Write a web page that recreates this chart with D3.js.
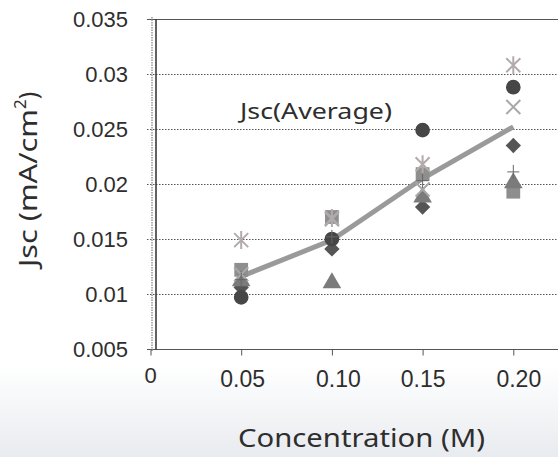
<!DOCTYPE html>
<html>
<head>
<meta charset="utf-8">
<script src="https://cdn.jsdelivr.net/npm/d3@7/dist/d3.min.js"></script>
<style>
  html, body { margin: 0; padding: 0; background: #fff; }
  svg { display: block; }
</style>
</head>
<body>
<svg id="chart" width="558" height="457"></svg>
<script>
// Concentrations (M) and short-circuit current density per sample (mA/cm²)
const concentrations = [0.05, 0.10, 0.15, 0.20];
const seriesDiamond  = [0.0106, 0.0141, 0.0179, 0.0235];
const seriesSquare   = [0.0122, 0.0170, 0.0209, 0.0193];
const seriesTriangle = [0.0112, 0.0110, 0.0188, 0.0201];
const seriesCross    = [0.0118, 0.0168, 0.0195, 0.0270];
const seriesStar     = [0.0149, 0.0169, 0.0218, 0.0308];
const seriesCircle   = [0.0097, 0.0150, 0.0249, 0.0288];
const seriesPlus     = [0.0113, 0.0152, 0.0203, 0.0211];
const jscAverage     = [0.0116, 0.0149, 0.0205, 0.0252];

const yTicks = [0.005, 0.01, 0.015, 0.02, 0.025, 0.03, 0.035];
const yTickLabels = ["0.005", "0.01", "0.015", "0.02", "0.025", "0.03", "0.035"];
const xTickLabels = ["0.05", "0.10", "0.15", "0.20"];

const svg = d3.select("#chart");

// faint tint toward the bottom of the page
const defs = svg.append("defs");
const grad = defs.append("linearGradient").attr("id", "bg").attr("x1", 0).attr("y1", 0).attr("x2", 0).attr("y2", 1);
grad.append("stop").attr("offset", "0.8").attr("stop-color", "#ffffff");
grad.append("stop").attr("offset", "1").attr("stop-color", "#e8ebef");
svg.append("rect").attr("width", 558).attr("height", 457).attr("fill", "url(#bg)");

const x = d3.scaleLinear().domain([0, 0.25]).range([150.5, 604]);
const y = d3.scaleLinear().domain([0.005, 0.035]).range([349, 19]);

const plotLeft = 156, plotRight = 600;

// gridlines (dotted)
svg.append("g")
  .selectAll("line")
  .data(yTicks)
  .join("line")
  .attr("x1", 147).attr("x2", plotRight)
  .attr("y1", d => Math.round(y(d)) + 0.5).attr("y2", d => Math.round(y(d)) + 0.5)
  .attr("stroke", "#555")
  .attr("stroke-width", 1.2)
  .attr("stroke-dasharray", d => (d === 0.035 || d === 0.005) ? null : "1.5,1.5");

// left axis: double line
svg.append("line").attr("x1", 152).attr("x2", 152).attr("y1", 17).attr("y2", 352)
  .attr("stroke", "#999").attr("stroke-width", 1.5).attr("stroke-dasharray", "1.5,1");
svg.append("line").attr("x1", plotLeft).attr("x2", plotLeft).attr("y1", 19).attr("y2", 349.5)
  .attr("stroke", "#3a3a3a").attr("stroke-width", 1.6);

// y tick labels
svg.append("g")
  .selectAll("text")
  .data(yTicks)
  .join("text")
  .attr("x", 128).attr("y", d => y(d))
  .attr("dy", "0.36em")
  .attr("text-anchor", "end")
  .attr("font-family", "'Liberation Sans', Arial, sans-serif")
  .attr("font-size", 22)
  .attr("fill", "#2e2e2e")
  .text((d, i) => yTickLabels[i]);

// x axis ticks and labels
const xAxis = d3.axisBottom(x)
  .tickValues([0].concat(concentrations))
  .tickSize(6)
  .tickFormat((d, i) => i === 0 ? "" : xTickLabels[i - 1]);
const gx = svg.append("g").attr("transform", `translate(0,${y(0.005) + 0.5})`).call(xAxis);
gx.select(".domain").remove();
gx.selectAll(".tick line").attr("stroke", "#555").attr("stroke-width", 1);
gx.selectAll(".tick text")
  .attr("font-family", "'Liberation Sans', Arial, sans-serif")
  .attr("font-size", 23)
  .attr("fill", "#2e2e2e")
  .attr("y", 21)
  .attr("dx", (d, i) => [0, 1, 6, 0, 5][i]);

// origin label sits a little higher
svg.append("text")
  .attr("x", x(0)).attr("y", 383)
  .attr("text-anchor", "middle")
  .attr("font-family", "'Liberation Sans', Arial, sans-serif")
  .attr("font-size", 22)
  .attr("fill", "#2e2e2e")
  .text("0");

// axis titles
svg.append("text")
  .attr("x", 238).attr("y", 447)
  .attr("font-family", "'Noto Sans', sans-serif")
  .attr("font-size", 26)
  .attr("textLength", 247)
  .attr("lengthAdjust", "spacingAndGlyphs")
  .attr("fill", "#2e2e2e")
  .text("Concentration (M)");

const yTitle = svg.append("text")
  .attr("transform", "translate(37,267) rotate(-90)")
  .attr("font-family", "'Noto Sans', sans-serif")
  .attr("font-size", 25)
  .attr("fill", "#2e2e2e");
yTitle.append("tspan").attr("textLength", 158).attr("lengthAdjust", "spacingAndGlyphs").text("Jsc (mA/cm");
yTitle.append("tspan").attr("font-size", 17).attr("dy", -11).text("2");
yTitle.append("tspan").attr("dy", 11).text(")");

// average line
const line = d3.line().x((d, i) => x(concentrations[i])).y(d => y(d));
svg.append("path")
  .datum(jscAverage)
  .attr("d", line)
  .attr("fill", "none")
  .attr("stroke", "#9a9a9a")
  .attr("stroke-width", 5);

svg.append("text")
  .attr("x", 240).attr("y", 119)
  .attr("font-family", "'Noto Sans', sans-serif")
  .attr("font-size", 22)
  .attr("textLength", 152)
  .attr("lengthAdjust", "spacingAndGlyphs")
  .attr("fill", "#2e2e2e")
  .text("Jsc(Average)");

// markers
const pts = vals => vals.map((v, i) => [x(concentrations[i]), y(v)]);

function drawSymbol(vals, type, size, fill) {
  svg.append("g").selectAll("path")
    .data(pts(vals)).join("path")
    .attr("transform", d => `translate(${d[0]},${d[1]})`)
    .attr("d", d3.symbol().type(type).size(size))
    .attr("fill", fill);
}

drawSymbol(seriesDiamond, d3.symbolDiamond2 || d3.symbolDiamond, 150, "#555");
drawSymbol(seriesSquare, d3.symbolSquare, 190, "#8e8e8e");
drawSymbol(seriesTriangle, d3.symbolTriangle, 150, "#7b7b7b");

// cross marker
svg.append("g").selectAll("path")
  .data(pts(seriesCross)).join("path")
  .attr("transform", d => `translate(${d[0]},${d[1]})`)
  .attr("d", "M-7,-7L7,7M-7,7L7,-7")
  .attr("stroke", "#a8a8a8").attr("stroke-width", 2).attr("fill", "none");

// star (asterisk) marker
svg.append("g").selectAll("path")
  .data(pts(seriesStar)).join("path")
  .attr("transform", d => `translate(${d[0]},${d[1]})`)
  .attr("d", "M-7,-7L7,7M-7,7L7,-7M0,-9L0,9")
  .attr("stroke", "#b3abab").attr("stroke-width", 2).attr("fill", "none");

drawSymbol(seriesCircle, d3.symbolCircle, 170, "#464646");

// plus marker
svg.append("g").selectAll("path")
  .data(pts(seriesPlus)).join("path")
  .attr("transform", d => `translate(${d[0]},${d[1]})`)
  .attr("d", "M-6,0L6,0M0,-7L0,7")
  .attr("stroke", "#666").attr("stroke-width", 1).attr("fill", "none");
</script>
</body>
</html>
